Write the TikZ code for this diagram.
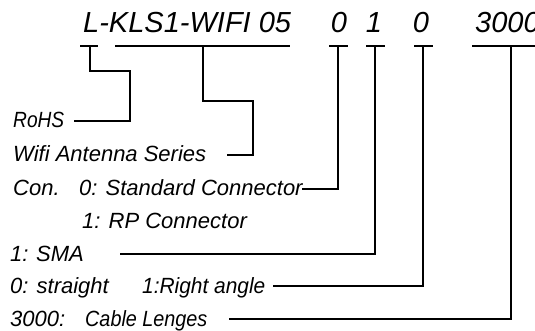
\documentclass[tikz,border=0pt]{standalone}
\usepackage{fontspec}
\setmainfont{Liberation Sans}
\newfontfamily\narrowA[FakeStretch=0.87]{Liberation Sans}
\newfontfamily\narrowB[FakeStretch=0.95]{Liberation Sans}
\newfontfamily\narrowC[FakeStretch=0.9]{Liberation Sans}
\begin{document}
\begin{tikzpicture}[x=1pt,y=-1pt,
  wire/.style={line width=1.6pt, line cap=butt, line join=miter},
  lbl/.style={anchor=base west, inner sep=0pt, font=\fontsize{22}{22}\itshape\selectfont},
  big/.style={anchor=base west, inner sep=0pt, font=\fontsize{29}{29}\itshape\selectfont},
  bigc/.style={anchor=base, inner sep=0pt, font=\fontsize{29}{29}\itshape\selectfont}]
\useasboundingbox (0,0) rectangle (535,331);
\clip (0,0) rectangle (535,331);
\fill[white] (0,0) rectangle (535,331);

% title
\node[big] (title) at (83,33) {L-KLS1-WIFI 05};
\node[bigc] (dA) at (339,33) {0};
\node[bigc] (dB) at (374,33) {1};
\node[bigc] (dC) at (421,33) {0};
\node[big] (dD) at (475,33) {3000};

% labels
\node[lbl, font=\narrowA\fontsize{22}{22}\itshape\selectfont] (rohs) at (13,128) {RoHS};
\node[lbl] (wifi) at (13,162) {Wifi Antenna Series};
\node[lbl] (con) at (13,196) {Con.};
\node[lbl] (std) at (79,196) {0: Standard Connector};
\node[lbl] (rp) at (82,228) {1: RP Connector};
\node[lbl] (sman) at (10,261) {1:};
\node[lbl] (sma) at (36,261) {SMA};
\node[lbl] (str) at (10,293) {0: straight};
\node[lbl, font=\narrowB\fontsize{22}{22}\itshape\selectfont] (ra) at (142,293) {1:Right angle};
\node[lbl] (cln) at (10,326) {3000:};
\node[lbl, font=\narrowC\fontsize{22}{22}\itshape\selectfont] (cl) at (85,326) {Cable Lenges};

% bar coordinates
\coordinate (b1l) at (80,46);  \coordinate (b1r) at (98,46);  \coordinate (b1m) at (90,46);
\coordinate (b2l) at (115,46); \coordinate (b2r) at (290,46); \coordinate (b2m) at (203,46);
\coordinate (b3l) at (329,46); \coordinate (b3r) at (348,46); \coordinate (b3m) at (338,46);
\coordinate (b4l) at (366,46); \coordinate (b4r) at (385,46); \coordinate (b4m) at (375,46);
\coordinate (b5l) at (414,46); \coordinate (b5r) at (433,46); \coordinate (b5m) at (423,46);
\coordinate (b6l) at (472,46); \coordinate (b6r) at (540,46); \coordinate (b6m) at (511,46);

% free ends at labels
\coordinate (e1) at (74,121);
\coordinate (e2) at (227,155);
\coordinate (e3) at (302,189);
\coordinate (e4) at (120,254);
\coordinate (e5) at (273,286);
\coordinate (e6) at (229,319);

\draw[wire] (b1l) -- (b1r);
\draw[wire] (b2l) -- (b2r);
\draw[wire] (b3l) -- (b3r);
\draw[wire] (b4l) -- (b4r);
\draw[wire] (b5l) -- (b5r);
\draw[wire] (b6l) -- (b6r);

\draw[wire] (b1m) |- (130,71) |- (e1);
\draw[wire] (b2m) |- (253,101) |- (e2);
\draw[wire] (b3m) |- (e3);
\draw[wire] (b4m) |- (e4);
\draw[wire] (b5m) |- (e5);
\draw[wire] (b6m) |- (e6);
\end{tikzpicture}
\end{document}
